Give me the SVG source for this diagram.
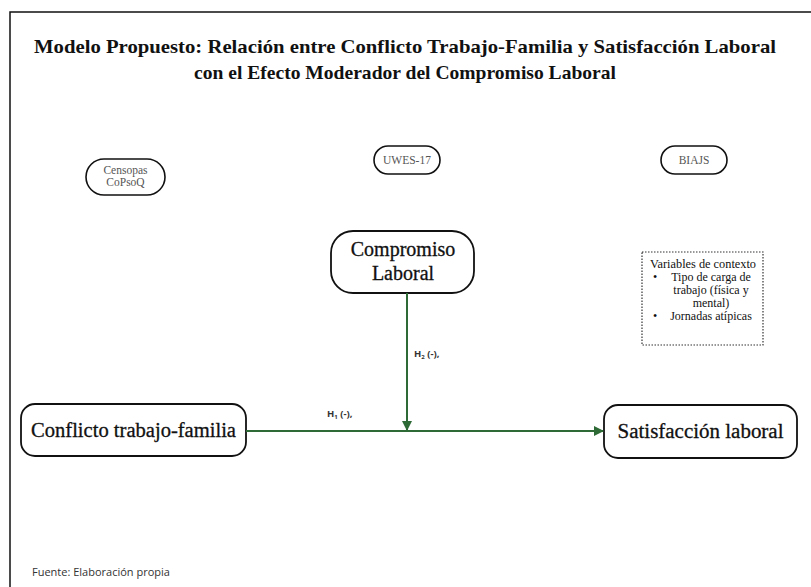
<svg xmlns="http://www.w3.org/2000/svg" width="811" height="587" viewBox="0 0 811 587">
<style>
.title{font-family:"Liberation Serif",serif;font-weight:bold;font-size:19px;fill:#111}
.pill{fill:#fff;stroke:#111;stroke-width:1.6}
.small{font-family:"Liberation Serif",serif;font-size:11.5px;fill:#555}
.node{fill:#fff;stroke:#111;stroke-width:1.8}
.big{font-family:"Liberation Serif",serif;font-size:20px;fill:#111;stroke:#111;stroke-width:0.3}
.ctx{font-family:"Liberation Serif",serif;font-size:12px;fill:#111}
.conn{stroke:#2d6a35;stroke-width:2;fill:none}
.lbl{font-family:"Open Sans",sans-serif;font-weight:bold;font-size:9.5px;fill:#333}
</style>
<defs>
<marker id="arr" viewBox="0 0 10 10" refX="9" refY="5" markerWidth="5" markerHeight="5" orient="auto">
<path d="M0,0 L10,5 L0,10 z" fill="#2d6a35"/>
</marker>
</defs>
<rect width="811" height="587" fill="#fff"/>
<path d="M10,587 V12 H811" fill="none" stroke="#111" stroke-width="1.5"/>
<text class="title" x="405" y="53" text-anchor="middle" textLength="742" lengthAdjust="spacingAndGlyphs">Modelo Propuesto: Relación entre Conflicto Trabajo-Familia y Satisfacción Laboral</text>
<text class="title" x="405" y="79" text-anchor="middle" textLength="422" lengthAdjust="spacingAndGlyphs">con el Efecto Moderador del Compromiso Laboral</text>
<g id="censopas">
<rect class="pill" x="86" y="159" width="79" height="36" rx="18"/>
<text class="small" x="125.5" y="174" text-anchor="middle">Censopas</text>
<text class="small" x="125.5" y="186" text-anchor="middle">CoPsoQ</text>
</g>
<g id="uwes">
<rect class="pill" x="374" y="146" width="66" height="28" rx="14"/>
<text class="small" x="407" y="164" text-anchor="middle">UWES-17</text>
</g>
<g id="biajs">
<rect class="pill" x="661" y="146" width="66" height="28" rx="14"/>
<text class="small" x="694" y="164" text-anchor="middle">BIAJS</text>
</g>
<g id="compromiso">
<rect class="node" x="331" y="231" width="143" height="62" rx="22"/>
<text class="big" x="403" y="256" text-anchor="middle">Compromiso</text>
<text class="big" x="403" y="280" text-anchor="middle">Laboral</text>
</g>
<g id="contexto">
<rect x="642" y="252" width="121" height="93" fill="#fff" stroke="#333" stroke-width="1.2" stroke-dasharray="1.5,1.5"/>
<text class="ctx" x="703" y="268" text-anchor="middle" textLength="106" lengthAdjust="spacingAndGlyphs">Variables de contexto</text>
<text class="ctx" x="653" y="281">•</text>
<text class="ctx" x="711" y="281" text-anchor="middle">Tipo de carga de</text>
<text class="ctx" x="711" y="294" text-anchor="middle">trabajo  (física y</text>
<text class="ctx" x="711" y="307" text-anchor="middle">mental)</text>
<text class="ctx" x="653" y="320">•</text>
<text class="ctx" x="711" y="320" text-anchor="middle">Jornadas atípicas</text>
</g>
<g id="conflicto">
<rect class="node" x="21" y="404" width="225" height="52" rx="14"/>
<text class="big" x="133.5" y="437" text-anchor="middle" textLength="205" lengthAdjust="spacingAndGlyphs">Conflicto trabajo-familia</text>
</g>
<g id="satisfaccion">
<rect class="node" x="604" y="405" width="193" height="53" rx="14"/>
<text class="big" x="700.5" y="438" text-anchor="middle" textLength="166" lengthAdjust="spacingAndGlyphs">Satisfacción laboral</text>
</g>
<g id="connectors">
<line class="conn" x1="246" y1="431" x2="603" y2="431" marker-end="url(#arr)"/>
<line class="conn" x1="407" y1="293" x2="407" y2="430" marker-end="url(#arr)"/>
<text class="lbl" x="414" y="357">H<tspan font-size="6" dy="2">2</tspan><tspan dy="-2"> (-)</tspan>,</text>
<text class="lbl" x="327" y="417">H<tspan font-size="6" dy="2">1</tspan><tspan dy="-2"> (-)</tspan>,</text>
</g>
<text x="32" y="576" font-family="'Open Sans',sans-serif" font-size="11" fill="#333">Fuente: Elaboración propia</text>
</svg>
